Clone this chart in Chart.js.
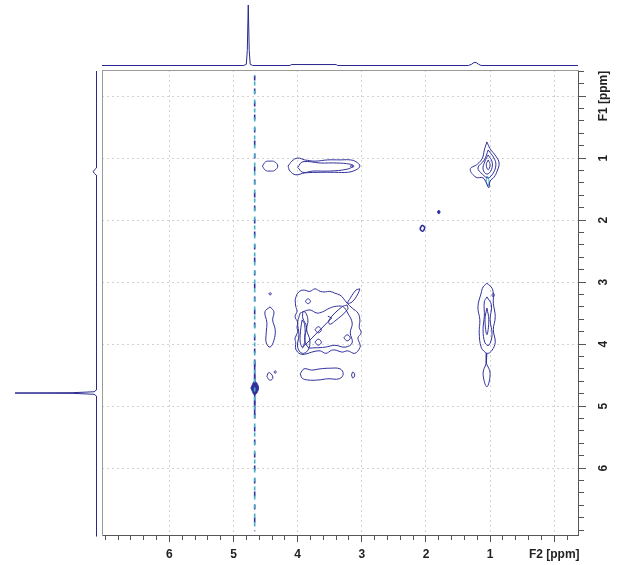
<!DOCTYPE html>
<html>
<head>
<meta charset="utf-8">
<script src="https://cdn.jsdelivr.net/npm/chart.js@4.4.1/dist/chart.umd.min.js"></script>
<style>
  html, body { margin: 0; padding: 0; background: #fff; }
  #wrap { position: relative; width: 621px; height: 565px; }
  #wrap canvas { position: absolute; left: 0; top: 0; }
</style>
</head>
<body>
<div id="wrap">
  <canvas id="main" width="621" height="565"></canvas>
  <canvas id="projF2" width="621" height="70"></canvas>
  <canvas id="projF1" width="102" height="565"></canvas>
</div>
<script>
// ---- axis ranges (ppm) ----
const F2_LIMITS = [-0.37, 7.05];
const F1_LIMITS = [-0.42, 7.08];
const TICK_STEP = 0.2;
const LABELLED_PPM = [0, 1, 2, 3, 4, 5, 6];

// ---- 1D projections: [ppm, intensity %] ----
const projF2 = [[7.05,0],[4.84,0],[4.80,2],[4.785,25],[4.77,100],[4.755,25],[4.74,2],[4.70,0],
  [4.12,0],[4.10,1.6],[3.40,1.6],[3.38,0],[1.34,0],[1.29,2],[1.25,5],[1.22,5],[1.18,2],[1.14,0],[-0.37,0]];
const projF1 = [[-0.40,0],[1.16,0],[1.19,2.5],[1.22,4],[1.25,2.5],[1.28,0],[4.74,0],[4.77,3],
  [4.785,30],[4.79,100],[4.795,30],[4.81,3],[4.84,0],[7.10,0]];

// ---- residual water (HDO) streak ----
const waterF2 = 4.67;
const waterSpanF1 = [-0.33, 7.02];
const waterDenseF1 = [4.25, 5.15];
const waterBlob = [[4.73,4.71],[4.67,4.60],[4.61,4.71],[4.67,4.82]];

// ---- contour rings, [F2, F1] in ppm ----
const peak36_11 = [
  [[4.15,1.13],[4.09,1.05],[4.00,1.00],[3.89,1.03],[3.73,1.05],[3.53,1.03],[3.34,1.03],[3.18,1.03],[3.09,1.06],
   [3.03,1.13],[3.09,1.19],[3.22,1.23],[3.42,1.23],[3.65,1.23],[3.89,1.24],[4.03,1.27],[4.12,1.21]],
  [[4.00,1.15],[3.92,1.06],[3.65,1.08],[3.39,1.08],[3.18,1.10],[3.14,1.13],[3.23,1.18],[3.50,1.21],[3.76,1.21],[3.92,1.23]],
  [[3.15,1.11],[3.12,1.13],[3.15,1.15],[3.18,1.13]]
];
const peak44_11 = [
  [[4.55,1.13],[4.50,1.06],[4.43,1.05],[4.36,1.06],[4.31,1.13],[4.36,1.20],[4.43,1.21],[4.50,1.20]]
];
const peak10_11 = [
  [[1.05,0.74],[1.00,0.85],[0.91,0.97],[0.86,1.08],[0.89,1.21],[0.94,1.31],[1.00,1.37],[1.02,1.48],
   [1.06,1.40],[1.11,1.32],[1.22,1.31],[1.31,1.18],[1.20,1.10],[1.12,1.00],[1.09,0.87]],
  [[1.03,0.87],[0.94,1.00],[0.91,1.11],[0.95,1.24],[1.03,1.32],[1.12,1.26],[1.19,1.16],[1.09,1.03]],
  [[1.03,0.95],[0.97,1.06],[0.98,1.19],[1.05,1.26],[1.11,1.18],[1.08,1.05]],
  [[1.03,1.03],[1.00,1.11],[1.03,1.19],[1.06,1.11]]
];
const peak10_11Low = [[[1.05,1.29],[1.02,1.35],[1.03,1.45],[1.06,1.37]]];
const dot18_19 = [[[1.80,1.84],[1.78,1.87],[1.80,1.90],[1.82,1.87]]];
const ring21_21 = [[[2.06,2.08],[2.02,2.12],[2.05,2.18],[2.09,2.14]]];

const box36_36 = [
  [[4.04,3.29],[4.00,3.18],[3.92,3.13],[3.81,3.15],[3.73,3.11],[3.65,3.15],[3.57,3.16],[3.50,3.15],[3.42,3.18],
   [3.34,3.21],[3.29,3.26],[3.23,3.34],[3.15,3.42],[3.06,3.50],[3.03,3.61],[3.04,3.73],[3.01,3.82],[3.06,3.90],
   [3.03,4.00],[3.03,4.06],[3.11,4.15],[3.22,4.11],[3.31,4.13],[3.40,4.10],[3.47,4.10],[3.56,4.15],[3.65,4.11],
   [3.78,4.13],[3.87,4.16],[3.96,4.16],[4.03,4.08],[4.03,3.98],[4.04,3.90],[4.00,3.81],[4.01,3.73],[4.00,3.65],
   [4.04,3.56],[4.01,3.47],[4.03,3.39]],
  [[3.92,3.48],[3.81,3.45],[3.70,3.50],[3.61,3.48],[3.50,3.42],[3.39,3.39],[3.29,3.40],[3.22,3.50],[3.15,3.66],
   [3.18,3.82],[3.15,3.98],[3.26,4.05],[3.42,4.02],[3.57,4.05],[3.73,4.06],[3.84,4.05],[3.89,3.89],[3.86,3.73],[3.92,3.58]],
  [[3.03,3.11],[3.06,3.19],[3.15,3.32],[3.22,3.34],[3.18,3.26],[3.09,3.13]],
  [[3.23,3.37],[3.22,3.44],[3.42,3.63],[3.50,3.68],[3.51,3.61],[3.31,3.40]],
  [[3.96,3.50],[3.89,3.48],[3.84,3.61],[3.86,3.77],[3.81,3.94],[3.84,4.10],[3.93,4.15],[4.00,4.05],[3.98,3.85],[4.00,3.65]],
  [[3.93,3.61],[3.89,3.69],[3.89,3.94],[3.92,4.06],[3.96,3.97],[3.95,3.74]],
  [[3.88,3.31],[3.84,3.27],[3.80,3.31],[3.84,3.35]],
  [[3.73,3.77],[3.68,3.72],[3.63,3.77],[3.68,3.82]],
  [[3.73,3.97],[3.68,3.92],[3.63,3.97],[3.68,4.02]],
  [[3.28,3.90],[3.23,3.85],[3.18,3.90],[3.23,3.95]]
];
const boxDiagonal = [[3.93,4.05],[3.87,4.00],[3.47,3.58],[3.53,3.55]];

const peak44_37 = [
  [[4.43,3.40],[4.37,3.48],[4.39,3.61],[4.35,3.77],[4.37,3.94],[4.43,4.05],[4.49,3.98],[4.49,3.82],[4.48,3.65],[4.51,3.48]],
  [[4.45,3.19],[4.43,3.17],[4.41,3.19],[4.43,3.21]]
];
const peak44_45 = [
  [[4.48,4.52],[4.45,4.46],[4.40,4.50],[4.39,4.56],[4.44,4.58]],
  [[4.35,4.43],[4.33,4.45],[4.35,4.47],[4.37,4.45]]
];
const peak36_45 = [
  [[3.96,4.48],[3.90,4.40],[3.78,4.42],[3.65,4.40],[3.50,4.39],[3.34,4.40],[3.29,4.48],[3.35,4.56],
   [3.53,4.56],[3.68,4.58],[3.84,4.58],[3.93,4.55]]
];
const peak31_45 = [[[3.16,4.50],[3.14,4.45],[3.11,4.50],[3.14,4.55]]];
const peak10_37 = [
  [[1.05,3.02],[0.97,3.10],[0.95,3.21],[0.95,3.34],[0.92,3.56],[0.95,3.77],[0.92,3.97],[0.97,4.10],
   [1.03,4.15],[1.08,4.13],[1.14,4.05],[1.17,3.82],[1.16,3.61],[1.19,3.40],[1.14,3.18],[1.11,3.08]],
  [[1.05,3.24],[0.98,3.37],[1.00,3.61],[0.97,3.85],[1.02,4.02],[1.08,3.98],[1.11,3.77],[1.09,3.55],[1.09,3.32]],
  [[1.05,3.42],[1.02,3.61],[1.05,3.85],[1.08,3.61]],
  [[0.93,3.21],[0.95,3.18],[0.97,3.21],[0.95,3.24]],
  [[1.06,4.31],[1.00,4.47],[1.05,4.69],[1.11,4.48]]
];
const peak10_37Tail = [[1.05,4.15],[1.06,4.31]];

// ---- styling ----
const INK = '#30309c';
const CYAN = '#45b0c4';
const GRID = '#d2d2d2';
const FRAME = '#9a9a9a';
const RULER = '#555555';
const SPECTRUM = '#28288f';
Chart.defaults.font.family = '"Liberation Sans", Arial, sans-serif';

const isLabelled = v => LABELLED_PPM.some(m => Math.abs(v - m) < 1e-6);

const datasets = [];
function addRings(rings, opts = {}) {
  rings.forEach(r => {
    const pts = r.map(([x, y]) => ({x, y}));
    if (!opts.open) pts.push({x: r[0][0], y: r[0][1]});
    datasets.push({
      data: pts, showLine: true, pointRadius: 0,
      borderWidth: opts.width || 1,
      borderColor: opts.color || INK,
      backgroundColor: opts.color || INK,
      fill: opts.fill ? 'shape' : false,
      tension: opts.open ? 0 : 0.4
    });
  });
}

// water streak
datasets.push({
  data: [{x: waterF2, y: waterSpanF1[0]}, {x: waterF2, y: waterSpanF1[1]}],
  showLine: true, pointRadius: 0, borderColor: CYAN, borderWidth: 1.6, borderDash: [4, 5], borderDashOffset: 3
});
datasets.push({
  data: [{x: waterF2, y: waterSpanF1[0]}, {x: waterF2, y: waterSpanF1[1]}],
  showLine: true, pointRadius: 0, borderColor: INK, borderWidth: 1.6, borderDash: [5, 8]
});
datasets.push({
  data: [{x: waterF2, y: waterDenseF1[0]}, {x: waterF2, y: waterDenseF1[1]}],
  showLine: true, pointRadius: 0, borderColor: INK, borderWidth: 1.6
});
addRings([waterBlob], {fill: true});

addRings(peak36_11);
addRings(peak44_11);
addRings(peak10_11);
addRings(peak10_11Low, {color: CYAN});
addRings(dot18_19, {fill: true});
addRings(ring21_21, {width: 1.6});
addRings(box36_36);
addRings([boxDiagonal], {open: true});
addRings(peak44_37);
addRings(peak44_45);
addRings(peak36_45);
addRings(peak31_45);
addRings(peak10_37);
addRings([peak10_37Tail], {open: true});

const tickFont = {size: 12, weight: 'bold'};

new Chart(document.getElementById('main'), {
  type: 'scatter',
  data: {datasets},
  options: {
    responsive: false, animation: false, devicePixelRatio: 1, events: [],
    layout: {padding: {left: 102, top: 70, right: 0, bottom: 0}},
    plugins: {legend: {display: false}, tooltip: {enabled: false}},
    scales: {
      x: {
        type: 'linear', position: 'bottom', reverse: true,
        min: F2_LIMITS[0], max: F2_LIMITS[1],
        afterFit(s) { s.height = 30; },
        border: {display: true, color: RULER, width: 1, dash: [2, 3]},
        grid: {
          drawOnChartArea: true, drawTicks: true, tickLength: 7,
          color: c => (c.tick && isLabelled(c.tick.value)) ? GRID : 'rgba(0,0,0,0)',
          tickColor: RULER,
          tickBorderDash: c => (c.tick && isLabelled(c.tick.value)) ? [] : [4, 40]
        },
        ticks: {
          stepSize: TICK_STEP, includeBounds: false, autoSkip: false,
          minRotation: 0, maxRotation: 0, padding: 5, color: '#222', font: tickFont,
          callback: v => Math.abs(v) < 1e-6 ? 'F2 [ppm]' : (isLabelled(v) ? String(Math.round(v)) : '')
        }
      },
      y: {
        type: 'linear', position: 'right', reverse: true,
        min: F1_LIMITS[0], max: F1_LIMITS[1],
        afterFit(s) { s.width = 43; },
        border: {display: true, color: RULER, width: 1, dash: [2, 3]},
        grid: {
          drawOnChartArea: true, drawTicks: true, tickLength: 8,
          color: c => (c.tick && isLabelled(c.tick.value)) ? GRID : 'rgba(0,0,0,0)',
          tickColor: RULER,
          tickBorderDash: c => (c.tick && isLabelled(c.tick.value)) ? [] : [5, 40]
        },
        ticks: {
          stepSize: TICK_STEP, includeBounds: false, autoSkip: false,
          minRotation: 90, maxRotation: 90, crossAlign: 'center', padding: -8,
          color: '#222', font: tickFont,
          callback: v => Math.abs(v) < 1e-6 ? 'F1 [ppm]' : (isLabelled(v) ? String(Math.round(v)) : '')
        }
      },
      frameTop: {
        type: 'linear', position: 'top', axis: 'x', min: 0, max: 1,
        afterFit(s) { s.height = 0; },
        ticks: {display: false}, grid: {display: false, drawTicks: false},
        border: {display: true, color: FRAME, width: 1}
      },
      frameLeft: {
        type: 'linear', position: 'left', axis: 'y', min: 0, max: 1,
        afterFit(s) { s.width = 0; },
        ticks: {display: false}, grid: {display: false, drawTicks: false},
        border: {display: true, color: FRAME, width: 1}
      }
    }
  }
});

// top projection (F2)
new Chart(document.getElementById('projF2'), {
  type: 'scatter',
  data: {datasets: [{
    data: projF2.map(([x, y]) => ({x, y})), showLine: true, pointRadius: 0,
    borderColor: SPECTRUM, borderWidth: 1, tension: 0, clip: false
  }]},
  options: {
    responsive: false, animation: false, devicePixelRatio: 1, events: [],
    layout: {padding: {left: 102, right: 43, top: 5, bottom: 4.5}},
    plugins: {legend: {display: false}, tooltip: {enabled: false}},
    scales: {
      x: {type: 'linear', display: false, reverse: true, min: F2_LIMITS[0], max: F2_LIMITS[1]},
      y: {type: 'linear', display: false, min: 0, max: 100}
    }
  }
});

// left projection (F1)
new Chart(document.getElementById('projF1'), {
  type: 'scatter',
  data: {datasets: [{
    data: projF1.map(([f1, v]) => ({x: v, y: f1})), showLine: true, pointRadius: 0,
    borderColor: SPECTRUM, borderWidth: 1, tension: 0, clip: false
  }]},
  options: {
    responsive: false, animation: false, devicePixelRatio: 1, events: [],
    layout: {padding: {left: 15, right: 5.5, top: 70, bottom: 30}},
    plugins: {legend: {display: false}, tooltip: {enabled: false}},
    scales: {
      x: {type: 'linear', display: false, reverse: true, min: 0, max: 100},
      y: {type: 'linear', display: false, reverse: true, min: F1_LIMITS[0], max: F1_LIMITS[1]}
    }
  }
});
</script>
</body>
</html>
